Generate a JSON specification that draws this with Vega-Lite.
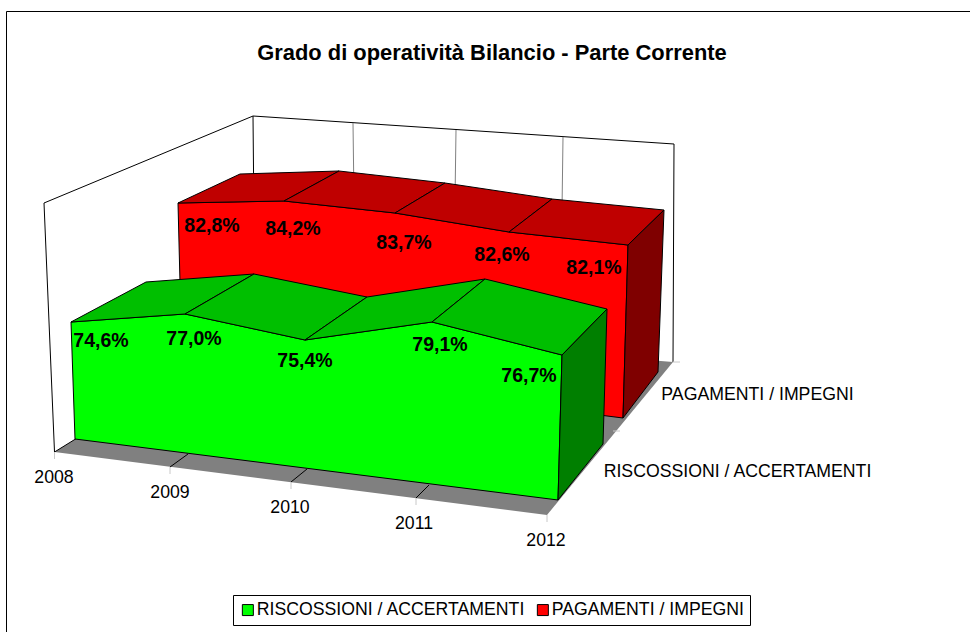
{
"$schema":"https://vega.github.io/schema/vega-lite/v6.json",
"width":970,"height":632,"autosize":{"type":"none"},"padding":0,
"background":"white",
"title":{"text":"Grado di operatività Bilancio - Parte Corrente","font":"Liberation Sans","fontSize":21.9,"fontWeight":"bold","color":"#000","anchor":"middle","dx":7,"dy":65,"offset":0},
"config":{"view":{"stroke":null}},
"datasets":{
"floor":[{"p":"floor","s":1,"h":54.5,"v":452},{"p":"floor","s":2,"h":547,"v":515},{"p":"floor","s":3,"h":673,"v":362},{"p":"floor","s":4,"h":255,"v":328}],
"lines":[
{"l":"frame","k":"frame","s":1,"h":6.5,"v":640},{"l":"frame","k":"frame","s":2,"h":6.5,"v":11.5},{"l":"frame","k":"frame","s":3,"h":975,"v":11.5},
{"l":"wall","k":"wall","s":1,"h":54.5,"v":452},{"l":"wall","k":"wall","s":2,"h":44,"v":203},{"l":"wall","k":"wall","s":3,"h":253,"v":116},{"l":"wall","k":"wall","s":4,"h":674,"v":144},{"l":"wall","k":"wall","s":5,"h":673,"v":362},
{"l":"corner","k":"wall","s":1,"h":253,"v":116},{"l":"corner","k":"wall","s":2,"h":255,"v":328},
{"l":"base","k":"wall","s":1,"h":54.5,"v":452},{"l":"base","k":"wall","s":2,"h":255,"v":328},
{"l":"g1","k":"grid","s":1,"h":353,"v":123},{"l":"g1","k":"grid","s":2,"h":354,"v":200},
{"l":"g2","k":"grid","s":1,"h":456,"v":130},{"l":"g2","k":"grid","s":2,"h":455,"v":200},
{"l":"g3","k":"grid","s":1,"h":563,"v":137},{"l":"g3","k":"grid","s":2,"h":562,"v":210},
{"l":"d1","k":"wall","s":1,"h":170,"v":467},{"l":"d1","k":"wall","s":2,"h":188,"v":454},
{"l":"d2","k":"wall","s":1,"h":291,"v":482},{"l":"d2","k":"wall","s":2,"h":307,"v":469},
{"l":"d3","k":"wall","s":1,"h":416,"v":498},{"l":"d3","k":"wall","s":2,"h":429,"v":485},
{"l":"t1","k":"tick","s":1,"h":54.5,"v":452},{"l":"t1","k":"tick","s":2,"h":54.5,"v":459},
{"l":"t2","k":"tick","s":1,"h":170,"v":467},{"l":"t2","k":"tick","s":2,"h":170,"v":474},
{"l":"t3","k":"tick","s":1,"h":291,"v":482},{"l":"t3","k":"tick","s":2,"h":291,"v":489},
{"l":"t4","k":"tick","s":1,"h":416,"v":498},{"l":"t4","k":"tick","s":2,"h":416,"v":505},
{"l":"t5","k":"tick","s":1,"h":547,"v":515},{"l":"t5","k":"tick","s":2,"h":547,"v":522},
{"l":"t6","k":"tick","s":1,"h":613,"v":431},{"l":"t6","k":"tick","s":2,"h":620,"v":431},
{"l":"t7","k":"tick","s":1,"h":673,"v":362},{"l":"t7","k":"tick","s":2,"h":680,"v":362}
],
"faces":[
{"p":"r0","f":"PAGAMENTI / IMPEGNI","s":1,"h":182,"v":362},{"p":"r0","f":"PAGAMENTI / IMPEGNI","s":2,"h":178,"v":203},{"p":"r0","f":"PAGAMENTI / IMPEGNI","s":3,"h":284,"v":201},{"p":"r0","f":"PAGAMENTI / IMPEGNI","s":4,"h":395,"v":213},{"p":"r0","f":"PAGAMENTI / IMPEGNI","s":5,"h":509,"v":232},{"p":"r0","f":"PAGAMENTI / IMPEGNI","s":6,"h":628,"v":245},{"p":"r0","f":"PAGAMENTI / IMPEGNI","s":7,"h":623,"v":418},{"p":"r0","f":"PAGAMENTI / IMPEGNI","s":8,"h":182,"v":362},
{"p":"r1","f":"top rosso","s":1,"h":178,"v":203},{"p":"r1","f":"top rosso","s":2,"h":240,"v":174},{"p":"r1","f":"top rosso","s":3,"h":339,"v":171},{"p":"r1","f":"top rosso","s":4,"h":284,"v":201},{"p":"r1","f":"top rosso","s":5,"h":178,"v":203},
{"p":"r2","f":"top rosso","s":1,"h":284,"v":201},{"p":"r2","f":"top rosso","s":2,"h":339,"v":171},{"p":"r2","f":"top rosso","s":3,"h":445,"v":183},{"p":"r2","f":"top rosso","s":4,"h":395,"v":213},{"p":"r2","f":"top rosso","s":5,"h":284,"v":201},
{"p":"r3","f":"top rosso","s":1,"h":395,"v":213},{"p":"r3","f":"top rosso","s":2,"h":445,"v":183},{"p":"r3","f":"top rosso","s":3,"h":552,"v":199},{"p":"r3","f":"top rosso","s":4,"h":509,"v":232},{"p":"r3","f":"top rosso","s":5,"h":395,"v":213},
{"p":"r4","f":"top rosso","s":1,"h":509,"v":232},{"p":"r4","f":"top rosso","s":2,"h":552,"v":199},{"p":"r4","f":"top rosso","s":3,"h":664,"v":210},{"p":"r4","f":"top rosso","s":4,"h":628,"v":245},{"p":"r4","f":"top rosso","s":5,"h":509,"v":232},
{"p":"r5","f":"lato rosso","s":1,"h":628,"v":245},{"p":"r5","f":"lato rosso","s":2,"h":664,"v":210},{"p":"r5","f":"lato rosso","s":3,"h":658,"v":372},{"p":"r5","f":"lato rosso","s":4,"h":623,"v":418},{"p":"r5","f":"lato rosso","s":5,"h":628,"v":245},
{"p":"v0","f":"RISCOSSIONI / ACCERTAMENTI","s":1,"h":75,"v":439},{"p":"v0","f":"RISCOSSIONI / ACCERTAMENTI","s":2,"h":71,"v":322},{"p":"v0","f":"RISCOSSIONI / ACCERTAMENTI","s":3,"h":185,"v":314},{"p":"v0","f":"RISCOSSIONI / ACCERTAMENTI","s":4,"h":305,"v":340},{"p":"v0","f":"RISCOSSIONI / ACCERTAMENTI","s":5,"h":432,"v":322},{"p":"v0","f":"RISCOSSIONI / ACCERTAMENTI","s":6,"h":562,"v":355},{"p":"v0","f":"RISCOSSIONI / ACCERTAMENTI","s":7,"h":558,"v":500},{"p":"v0","f":"RISCOSSIONI / ACCERTAMENTI","s":8,"h":75,"v":439},
{"p":"v1","f":"top verde","s":1,"h":71,"v":322},{"p":"v1","f":"top verde","s":2,"h":146,"v":282},{"p":"v1","f":"top verde","s":3,"h":254,"v":274},{"p":"v1","f":"top verde","s":4,"h":185,"v":314},{"p":"v1","f":"top verde","s":5,"h":71,"v":322},
{"p":"v2","f":"top verde","s":1,"h":185,"v":314},{"p":"v2","f":"top verde","s":2,"h":254,"v":274},{"p":"v2","f":"top verde","s":3,"h":367,"v":297},{"p":"v2","f":"top verde","s":4,"h":305,"v":340},{"p":"v2","f":"top verde","s":5,"h":185,"v":314},
{"p":"v3","f":"top verde","s":1,"h":305,"v":340},{"p":"v3","f":"top verde","s":2,"h":367,"v":297},{"p":"v3","f":"top verde","s":3,"h":485,"v":279},{"p":"v3","f":"top verde","s":4,"h":432,"v":322},{"p":"v3","f":"top verde","s":5,"h":305,"v":340},
{"p":"v4","f":"top verde","s":1,"h":432,"v":322},{"p":"v4","f":"top verde","s":2,"h":485,"v":279},{"p":"v4","f":"top verde","s":3,"h":607,"v":309},{"p":"v4","f":"top verde","s":4,"h":562,"v":355},{"p":"v4","f":"top verde","s":5,"h":432,"v":322},
{"p":"v5","f":"lato verde","s":1,"h":562,"v":355},{"p":"v5","f":"lato verde","s":2,"h":607,"v":309},{"p":"v5","f":"lato verde","s":3,"h":603,"v":444},{"p":"v5","f":"lato verde","s":4,"h":558,"v":500},{"p":"v5","f":"lato verde","s":5,"h":562,"v":355}
],
"values":[
{"t":"82,8%","h":212,"v":226},{"t":"84,2%","h":293,"v":229},{"t":"83,7%","h":404,"v":243},{"t":"82,6%","h":502,"v":255},{"t":"82,1%","h":594,"v":268},
{"t":"74,6%","h":101,"v":341},{"t":"77,0%","h":194,"v":339},{"t":"75,4%","h":305,"v":361},{"t":"79,1%","h":440,"v":345},{"t":"76,7%","h":529,"v":376}
],
"axislabels":[
{"t":"2008","h":54,"v":478},{"t":"2009","h":170,"v":493},{"t":"2010","h":290,"v":508},{"t":"2011","h":414,"v":524},{"t":"2012","h":546,"v":541},
{"t":"RISCOSSIONI / ACCERTAMENTI","h":737.5,"v":472},{"t":"PAGAMENTI / IMPEGNI","h":757.5,"v":395}
]
},
"layer":[
{"data":{"name":"floor"},"mark":{"type":"line","fill":"#808080","strokeWidth":0,"clip":false},
 "encoding":{"x":{"field":"h","type":"quantitative","scale":{"domain":[0,970],"nice":false,"zero":false},"axis":null},"y":{"field":"v","type":"quantitative","scale":{"domain":[0,632],"reverse":true,"nice":false,"zero":false},"axis":null},"order":{"field":"s","type":"ordinal"},"detail":{"field":"p"}}},
{"data":{"name":"lines"},"mark":{"type":"line","clip":true,"strokeWidth":1},
 "encoding":{"x":{"field":"h","type":"quantitative","axis":null},"y":{"field":"v","type":"quantitative","axis":null},"order":{"field":"s","type":"ordinal"},"detail":{"field":"l"},
  "stroke":{"field":"k","type":"nominal","legend":null,"scale":{"domain":["frame","wall","grid","tick"],"range":["#000000","#000000","#808080","#C8C8C8"]}}}},
{"data":{"name":"faces"},"mark":{"type":"line","stroke":"#000000","strokeWidth":1},
 "encoding":{"x":{"field":"h","type":"quantitative","axis":null},"y":{"field":"v","type":"quantitative","axis":null},"order":{"field":"s","type":"ordinal"},"detail":{"field":"p"},
  "fill":{"field":"f","type":"nominal","sort":null,"scale":{"domain":["RISCOSSIONI / ACCERTAMENTI","PAGAMENTI / IMPEGNI","top verde","lato verde","top rosso","lato rosso"],"range":["#00FF00","#FF0000","#00BF00","#007F00","#BF0000","#7F0000"]},
   "legend":{"values":["RISCOSSIONI / ACCERTAMENTI","PAGAMENTI / IMPEGNI"],"orient":"none","legendX":233,"legendY":595,"direction":"horizontal","columns":2,"title":null,"symbolType":"square","symbolSize":121,"symbolStrokeColor":"#000000","symbolStrokeWidth":1,"labelFont":"Liberation Sans","labelFontSize":17.7,"labelLimit":400,"labelColor":"#000000","fillColor":"#FFFFFF","strokeColor":"#000000","padding":6,"columnPadding":8,"labelOffset":0}}}},
{"data":{"name":"values"},"mark":{"type":"text","font":"Liberation Sans","fontSize":19.5,"fontWeight":"bold","color":"#000000","align":"center","baseline":"middle"},
 "encoding":{"x":{"field":"h","type":"quantitative","axis":null},"y":{"field":"v","type":"quantitative","axis":null},"text":{"field":"t"}}},
{"data":{"name":"axislabels"},"mark":{"type":"text","font":"Liberation Sans","fontSize":17.7,"color":"#000000","align":"center","baseline":"middle"},
 "encoding":{"x":{"field":"h","type":"quantitative","axis":null},"y":{"field":"v","type":"quantitative","axis":null},"text":{"field":"t"}}}
]
}
